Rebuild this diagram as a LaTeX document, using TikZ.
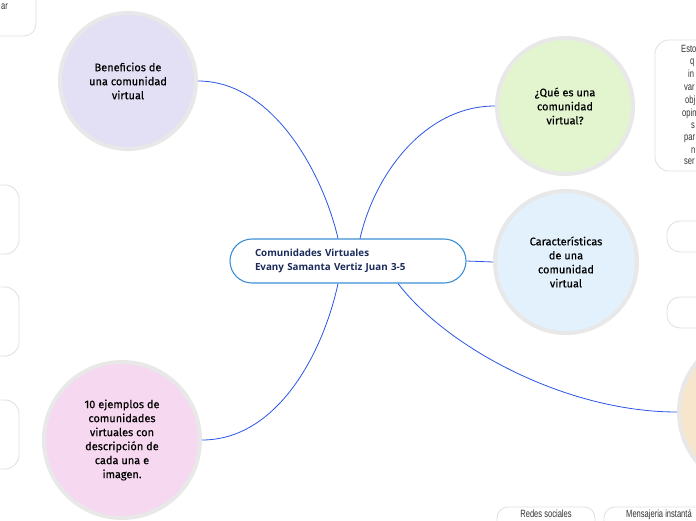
\documentclass[tikz,border=0pt]{standalone}
\usepackage{fontspec}
\setmainfont{Fira Sans}
\newfontfamily\cenfont{Open Sans}
\newfontfamily\narrowfont[FakeStretch=0.72]{Liberation Sans}
\newfontfamily\circfont[FakeBold=0.4]{Fira Sans}
\definecolor{connblue}{HTML}{2A55E6}
\definecolor{cenborder}{HTML}{3D8FD6}
\definecolor{centext}{HTML}{1B2B5C}
\definecolor{ringgray}{HTML}{E8E8E8}
\definecolor{boxgray}{HTML}{E2E2E2}
\definecolor{lavender}{HTML}{E3E0F5}
\definecolor{lightgreen}{HTML}{E3F5CF}
\definecolor{lightblue}{HTML}{E2F1FB}
\definecolor{lightpink}{HTML}{F6D8F0}
\definecolor{lightpeach}{HTML}{F7E6CC}
\definecolor{sidetext}{HTML}{333333}
\begin{document}
\begin{tikzpicture}[x=1pt,y=-1pt,
  topic/.style={circle, draw=ringgray, line width=4pt, inner sep=0pt, align=center,
    font=\circfont\fontsize{11}{14}\selectfont, text=black},
  centre/.style={rectangle, rounded corners=22pt, draw=cenborder, line width=1.1pt, fill=white,
    minimum height=44pt, text width=186pt, inner xsep=25pt, align=left,
    font=\cenfont\bfseries\fontsize{9.8}{14}\selectfont, text=centext},
  conn/.style={draw=connblue, line width=0.8pt},
  sidebox/.style={rectangle, draw=boxgray, line width=0.9pt, fill=white, inner sep=0pt},
  sidelabel/.style={font=\narrowfont\fontsize{10.5}{12}\selectfont, text=sidetext, inner sep=0pt},
]
\useasboundingbox (0,0) rectangle (696,520);
\clip (0,0) rectangle (696,520);
\fill[white] (0,0) rectangle (696,520);

% partial side boxes
\node[sidebox, rounded corners=12pt, minimum width=96pt, minimum height=76pt] (tlbox) at (-12,-2) {};
\node[sidelabel, anchor=base east] (tltext) at (8,9) {ar};
\node[sidebox, rounded corners=14pt, minimum width=80pt, minimum height=69pt] (lbox1) at (-21,219.5) {};
\node[sidebox, rounded corners=14pt, minimum width=80pt, minimum height=69pt] (lbox2) at (-21,321.5) {};
\node[sidebox, rounded corners=14pt, minimum width=80pt, minimum height=69pt] (lbox3) at (-21,434.5) {};
\node[sidebox, rounded corners=14pt, minimum width=110pt, minimum height=131pt] (rbox1) at (710,105.5) {};
\node[sidebox, rounded corners=13pt, minimum width=100pt, minimum height=31pt] (rbox2) at (717,236.5) {};
\node[sidebox, rounded corners=13pt, minimum width=100pt, minimum height=31pt] (rbox3) at (717,312.5) {};
\node[sidebox, rounded corners=11pt, minimum width=98pt, minimum height=40pt] (bbox1) at (546,527) {};
\node[sidebox, rounded corners=11pt, minimum width=120pt, minimum height=40pt] (bbox2) at (664,527) {};
\node[sidelabel, anchor=base] (bt1) at (546,517.5) {Redes sociales};
\node[sidelabel, anchor=base west] (bt2) at (626,517.5) {Mensajeria instantá};

% text fragments of the right box
\node[sidelabel, anchor=base west] (r1) at (681,52) {Esto};
\node[sidelabel, anchor=base west] (r2) at (690,64) {q};
\node[sidelabel, anchor=base west] (r3) at (688,77) {in};
\node[sidelabel, anchor=base west] (r4) at (684,90) {var};
\node[sidelabel, anchor=base west] (r5) at (685,103) {obj};
\node[sidelabel, anchor=base west] (r6) at (682,116) {opin};
\node[sidelabel, anchor=base west] (r7) at (691,128) {s};
\node[sidelabel, anchor=base west] (r8) at (684,140) {par};
\node[sidelabel, anchor=base west] (r9) at (691,153) {n};
\node[sidelabel, anchor=base west] (r10) at (684,164) {ser};

% central node
\node[centre] (cen) at (348,261) {Comunidades Virtuales\\Evany Samanta Vertiz Juan 3-5};

% topic circles
\node[topic, fill=lavender, minimum size=136pt] (ben) at (128,81) {Beneficios de\\una comunidad\\virtual};
\node[topic, fill=lightgreen, minimum size=136pt] (que) at (565,106) {¿Qué es una\\comunidad\\virtual?};
\node[topic, fill=lightblue, minimum size=142pt] (car) at (566,262) {Características\\de una\\comunidad\\virtual};
\node[topic, fill=lightpink, minimum size=156pt] (eje) at (122,440) {10 ejemplos de\\comunidades\\virtuales con\\descripción de\\cada una e\\imagen.};
\node[topic, fill=lightpeach, minimum size=156pt] (brc) at (757,412) {};

% connectors
\draw[conn] ([xshift=-10pt]cen.north) .. controls +(-15,-65) and +(75,0) .. (ben.east);
\draw[conn] ([xshift=12pt]cen.north) .. controls +(15,-65) and +(-70,0) .. (que.west);
\draw[conn] (cen.east) -- (car.west);
\draw[conn] ([xshift=50pt]cen.south) .. controls +(50,65) and +(-110,0) .. (brc.west);
\draw[conn] ([xshift=-10pt]cen.south) .. controls +(-15,70) and +(75,0) .. (eje.east);
\end{tikzpicture}
\end{document}
